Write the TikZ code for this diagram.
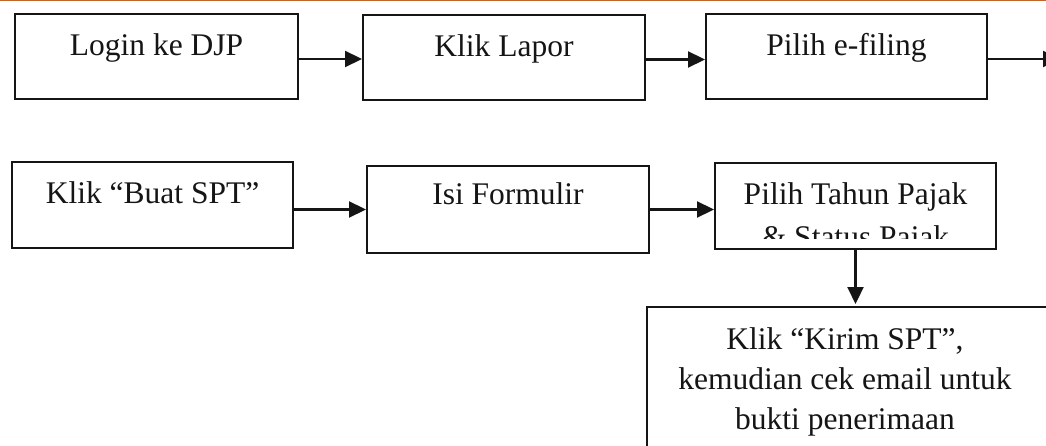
\documentclass[tikz,border=0pt]{standalone}
\usepackage{fontspec}
\setmainfont{Liberation Serif}
\usetikzlibrary{arrows.meta}
\definecolor{topline}{HTML}{C0662B}
\definecolor{ink}{HTML}{151515}
\begin{document}
\begin{tikzpicture}[x=1pt,y=-1pt,
  boxst/.style={draw=ink,line width=2pt,rectangle,inner sep=0pt},
  lbl/.style={text=ink,font=\fontsize{31.5}{40}\selectfont,inner sep=0pt},
  conn/.style={draw=ink,line width=2.2pt,-{Triangle[length=17pt,width=16pt]}}]
\useasboundingbox (0,0) rectangle (1046,446);
\clip (0,0) rectangle (1046,446);
\fill[white] (0,0) rectangle (1046,446);
\draw[topline,line width=2pt] (0,0.5) -- (1046,0.5);

% boxes
\node[boxst,minimum width=283pt,minimum height=85pt] (b1) at (156.5,56.5) {};
\node[boxst,minimum width=282pt,minimum height=85pt] (b2) at (504,57.5) {};
\node[boxst,minimum width=281pt,minimum height=85pt] (b3) at (846.5,56.5) {};
\node[boxst,minimum width=281pt,minimum height=86pt] (b4) at (152.5,205) {};
\node[boxst,minimum width=282pt,minimum height=87pt] (b5) at (508,209.5) {};
\node[boxst,minimum width=281pt,minimum height=86pt] (b6) at (855.5,206) {};
\node[boxst,minimum width=413pt,minimum height=163pt] (b7) at (853.5,388.5) {};

% texts
\node[lbl,anchor=base] (t1) at (156.5,56) {Login ke DJP};
\node[lbl,anchor=base] (t2) at (504,57) {Klik Lapor};
\node[lbl,anchor=base] (t3) at (846.5,56) {Pilih e-filing};
\node[lbl,anchor=base] (t4) at (152.5,204) {Klik “Buat SPT”};
\node[lbl,anchor=base] (t5) at (508,205) {Isi Formulir};
\begin{scope}
\clip (715,163) rectangle (996,239);
\node[lbl,anchor=north,align=center,font=\fontsize{31.5}{43}\selectfont] (t6) at (855.5,182.5) {Pilih Tahun Pajak\\\& Status Pajak};
\end{scope}
\node[lbl,anchor=north,align=center] (t7) at (845,327.5) {Klik “Kirim SPT”,\\kemudian cek email untuk\\bukti penerimaan};

% connectors
\coordinate (e3) at (1060,59);
\draw[conn] ([yshift=-2.5pt]b1.east) -- ([yshift=-2.5pt]b1.east -| b2.west);
\draw[conn] ([yshift=-2pt]b2.east) -- ([yshift=-2pt]b2.east -| b3.west);
\draw[conn] ([yshift=-2.5pt]b3.east) -- (e3);
\draw[conn] (b4.east |- b5.west) -- (b5.west);
\draw[conn] (b5.east) -- (b5.east -| b6.west);
\draw[conn,shorten >=2pt] (b6.south) -- (b6.south |- b7.north);
\end{tikzpicture}
\end{document}
